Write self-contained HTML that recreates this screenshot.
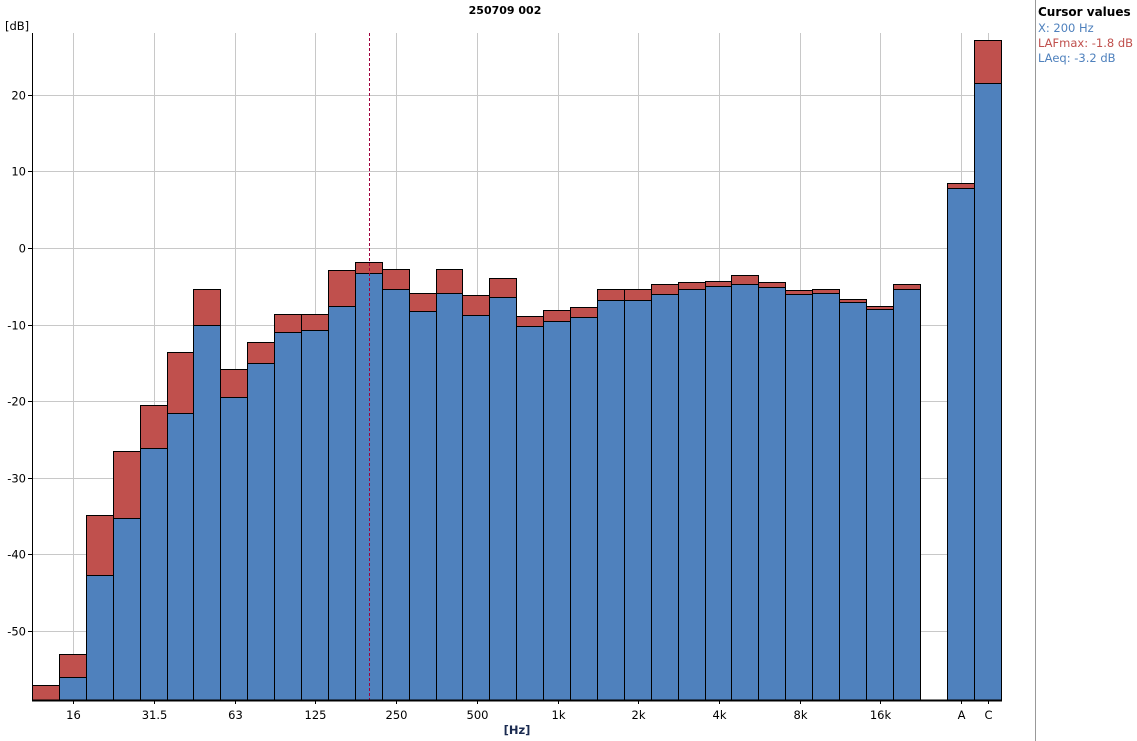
<!DOCTYPE html>
<html><head><meta charset="utf-8"><style>
html,body{margin:0;padding:0;background:#fff;width:1137px;height:741px;overflow:hidden}
svg text{font-family:"DejaVu Sans","Liberation Sans",sans-serif;font-size:11.5px;fill:#000}
</style></head><body>
<svg id="s" width="1137" height="741" xmlns="http://www.w3.org/2000/svg">
<text x="505" y="14" text-anchor="middle" font-weight="bold" style="font-size:11px">250709 002</text>
<text x="5" y="30">[dB]</text>
<line x1="1035.5" y1="0" x2="1035.5" y2="741" stroke="#999"/>
<text x="1038" y="16" font-weight="bold" style="font-size:12px">Cursor values</text>
<text x="1038" y="32" style="fill:#4f81bd">X: 200 Hz</text>
<text x="1038" y="47" style="fill:#c0504d">LAFmax: -1.8 dB</text>
<text x="1038" y="62" style="fill:#4f81bd">LAeq: -3.2 dB</text>
<text x="517" y="734" text-anchor="middle" font-weight="bold" style="fill:#1a2a50">[Hz]</text>
<g id="g"></g>
</svg>
<script>
const g=document.getElementById('g');let h='';
const L=32,R=1002,T=33,B=700;
function Y(v){return 248-v*7.66;}
for(let v=20;v>=-50;v-=10){const y=Math.round(Y(v))+0.5;h+=`<line x1="${L}" y1="${y}" x2="${R}" y2="${y}" stroke="#c8c8c8"/>`;h+=`<line x1="${L-4}" y1="${y}" x2="${L}" y2="${y}" stroke="#000"/>`;h+=`<text x="${L-6}" y="${y+4}" text-anchor="end">${v}</text>`;}
const w=26.9;
const labs=['16','31.5','63','125','250','500','1k','2k','4k','8k','16k'];
for(let i=0;i<11;i++){const x=Math.round(L+(1+3*i+0.5)*w)+1.5;h+=`<line x1="${x}" y1="${T}" x2="${x}" y2="${B}" stroke="#c8c8c8"/><line x1="${x}" y1="${B}" x2="${x}" y2="${B+4}" stroke="#000"/><text x="${x}" y="${B+19}" text-anchor="middle">${labs[i]}</text>`;}
[[961.5,'A'],[988.5,'C']].forEach(([x,t])=>{h+=`<line x1="${x}" y1="${T}" x2="${x}" y2="${B}" stroke="#c8c8c8"/><line x1="${x}" y1="${B}" x2="${x}" y2="${B+4}" stroke="#000"/><text x="${x}" y="${B+19}" text-anchor="middle">${t}</text>`;});
const red=[685,654,515,451,405,352,289,369,342,314,314,270,262,269,293,269,295,278,316,310,307,289,289,284,282,281,275,282,290,289,299,306,284];
const blu=[702,677,575,518,448,413,325,397,363,332,330,306,273,289,311,293,315,297,326,321,317,300,300,294,289,286,284,287,294,293,302,309,289];
function bar(x0,x1,r,b){h+=`<rect x="${x0}" y="${r}" width="${x1-x0}" height="${B-r}" fill="#c0504d" stroke="#000" stroke-width="1"/>`;if(b<B)h+=`<rect x="${x0}" y="${b}" width="${x1-x0}" height="${B-b}" fill="#4f81bd" stroke="#000" stroke-width="1"/>`;}
for(let i=0;i<33;i++){bar(Math.round(L+i*w)+0.5,Math.round(L+(i+1)*w)+0.5,red[i]+0.5,blu[i]+0.5);}
bar(947.5,974.5,183.5,188.5);bar(974.5,1001.5,40.5,83.5);
h+=`<line x1="369.5" y1="${T}" x2="369.5" y2="${B}" stroke="#a0003c" stroke-dasharray="3,2"/>`;
h+=`<line x1="${L}.5" y1="${T}" x2="${L}.5" y2="${B}" stroke="#000"/><line x1="${L}" y1="${B}.5" x2="${R}" y2="${B}.5" stroke="#000" stroke-width="2"/>`;
g.innerHTML=h;
</script>
</body></html>
